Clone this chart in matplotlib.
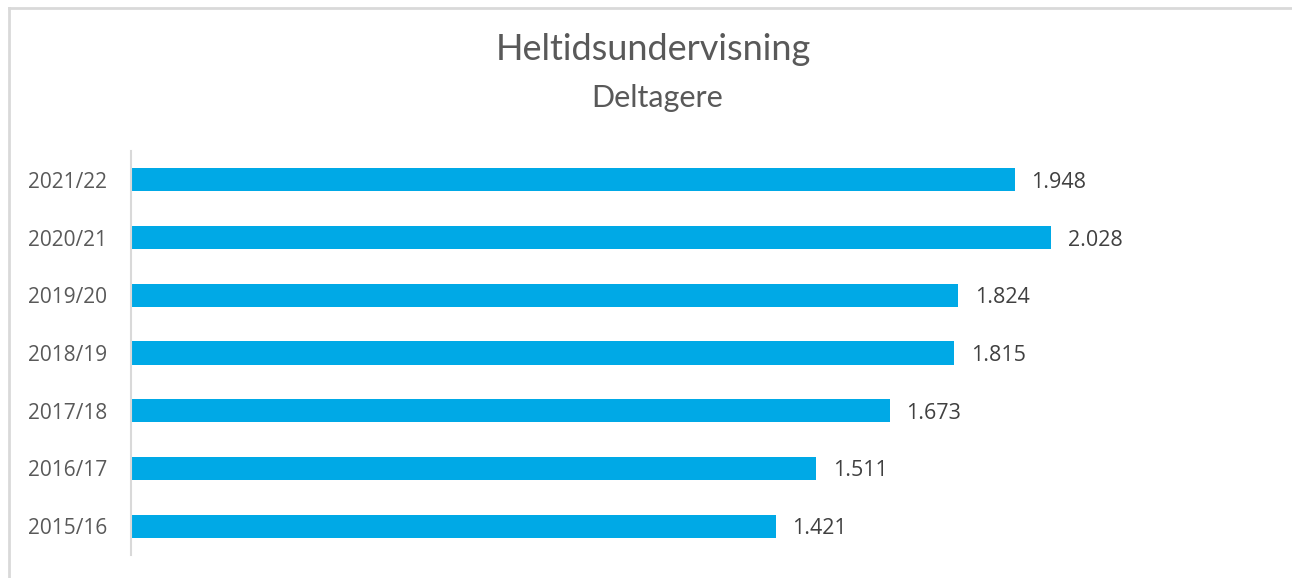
import matplotlib
matplotlib.use("Agg")
import matplotlib.pyplot as plt
from matplotlib.lines import Line2D

categories = ["2015/16", "2016/17", "2017/18", "2018/19", "2019/20", "2020/21", "2021/22"]
values = [1421, 1511, 1673, 1815, 1824, 2028, 1948]
title = "Heltidsundervisning"
subtitle = "Deltagere"

W, H = 1292, 578
fig = plt.figure(figsize=(W / 100, H / 100), dpi=100)
fig.patch.set_facecolor("white")

ax = fig.add_axes([131 / W, 1 - 555 / H, (1265 - 131) / W, (555 - 151) / H])
y = list(range(len(categories)))
ax.barh(y, values, height=0.40, color="#00A9E6")
ax.set_xlim(0, 2500)
ax.set_ylim(-0.5, len(categories) - 0.5)
ax.set_yticks(y)
ax.set_yticklabels(categories, fontfamily="Open Sans", fontsize=15, color="#595959")
ax.tick_params(axis="y", length=0, pad=17)
ax.set_xticks([])
for s in ["top", "right", "bottom"]:
    ax.spines[s].set_visible(False)
ax.spines["left"].set_color("#D9D9D9")
ax.spines["left"].set_linewidth(1.5)
ax.spines["left"].set_bounds(-0.5, len(categories) - 0.5)

for yi, v in zip(y, values):
    ax.annotate(f"{v:,}".replace(",", "."), xy=(v, yi), xytext=(12, 0),
                textcoords="offset points", va="center_baseline", ha="left",
                fontfamily="Open Sans", fontsize=15.5, color="#404040")

fig.text(653 / W, 1 - 60 / H, title, ha="center", va="baseline",
         fontfamily="Lato", fontweight="normal", fontsize=26, color="#595959")
fig.text(657 / W, 1 - 107 / H, subtitle, ha="center", va="baseline",
         fontfamily="Lato", fontweight="normal", fontsize=22, color="#595959")

# partial border (top and left)
fig.add_artist(Line2D([9 / W, 1], [1 - 8 / H, 1 - 8 / H], transform=fig.transFigure,
                      color="#D9D9D9", lw=2))
fig.add_artist(Line2D([9 / W, 9 / W], [0, 1 - 8 / H], transform=fig.transFigure,
                      color="#D9D9D9", lw=2))

fig.savefig("out.png", dpi=100, facecolor="white")
